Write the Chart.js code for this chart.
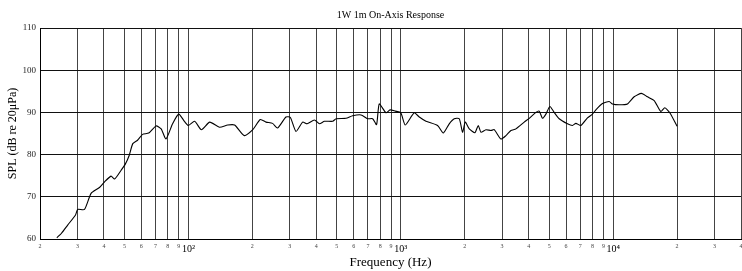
<!DOCTYPE html>
<html>
<head>
<meta charset="utf-8">
<script src="https://cdn.jsdelivr.net/npm/chart.js@4.4.1/dist/chart.umd.min.js"></script>
<style>
  html, body { margin: 0; padding: 0; background: #fff; }
</style>
</head>
<body>
<canvas id="chart" width="742" height="271"></canvas>
<script>
// Frequency (Hz) and SPL (dB)
const FREQS = [24, 25.2, 27, 29.4, 30.1, 32.4, 34.8, 38.1, 40.2, 43.2, 44.9, 48.2, 50.5, 52.6, 54.7, 57.6, 60.8, 65, 70.4, 74.4, 78.4, 84.2, 90, 96, 100, 107, 115, 126, 140, 153, 165, 183, 201, 218, 232, 249, 263, 288, 302, 321, 345, 362, 392, 414, 437, 478, 496, 552, 593, 650, 698, 737, 769, 792, 852, 890, 942, 1000, 1050, 1157, 1222, 1314, 1490, 1585, 1691, 1785, 1885, 1954, 2012, 2101, 2235, 2316, 2385, 2517, 2658, 2754, 2961, 3127, 3301, 3485, 3813, 4025, 4327, 4485, 4648, 4823, 5036, 5277, 5570, 6095, 6434, 6675, 7047, 7570, 7990, 8290, 8905, 9576, 9925, 10670, 11680, 12560, 13590, 14500, 15600, 16770, 17510, 18550, 20000];
const SPL = [60.3, 61.3, 63.3, 65.7, 67.0, 67.0, 70.8, 72.2, 73.5, 74.9, 74.2, 76.3, 77.8, 79.8, 82.6, 83.4, 84.8, 85.1, 86.8, 86.1, 83.7, 87.3, 89.6, 87.8, 86.9, 87.9, 85.9, 87.7, 86.5, 87.0, 87.0, 84.5, 85.9, 88.3, 87.7, 87.4, 86.3, 88.9, 88.8, 85.5, 87.7, 87.3, 88.2, 87.3, 87.9, 87.9, 88.5, 88.6, 89.2, 89.4, 88.5, 88.5, 87.1, 92.0, 89.9, 90.6, 90.3, 89.9, 87.0, 89.9, 88.9, 87.9, 86.9, 85.1, 87.3, 88.5, 88.5, 85.3, 87.7, 86.1, 85.2, 86.9, 85.3, 85.9, 85.7, 85.9, 83.7, 84.5, 85.7, 86.1, 87.7, 88.6, 90.0, 90.3, 88.6, 89.6, 91.4, 90.0, 88.5, 87.3, 86.9, 87.4, 86.9, 88.7, 89.6, 90.6, 92.1, 92.6, 92.0, 91.8, 92.0, 93.7, 94.5, 93.7, 92.8, 90.2, 91.1, 89.8, 86.7];

const X_TICKS = [20, 30, 40, 50, 60, 70, 80, 90, 100, 200, 300, 400, 500, 600, 700, 800, 900, 1000, 2000, 3000, 4000, 5000, 6000, 7000, 8000, 9000, 10000, 20000, 30000, 40000];
const DECADE_LABELS = { 100: '10²', 1000: '10³', 10000: '10⁴' };
const Y_MIN = 60, Y_MAX = 110, Y_STEP = 10;

const SERIF = "'Liberation Serif', 'DejaVu Serif', serif";

function xLabel(v) {
    if (DECADE_LABELS[v]) return DECADE_LABELS[v];
    return String(Math.round(v / Math.pow(10, Math.floor(Math.log10(v)))));
}

new Chart(document.getElementById('chart'), {
    type: 'line',
    data: {
        datasets: [{
            data: FREQS.map((f, i) => ({ x: f, y: SPL[i] })),
            borderColor: '#000',
            borderWidth: 1.1,
            pointRadius: 0,
            tension: 0.2,
            fill: false
        }]
    },
    options: {
        responsive: false,
        animation: false,
        layout: { padding: { left: 0, right: 1, top: 0, bottom: 0 } },
        plugins: {
            legend: { display: false },
            tooltip: { enabled: false },
            title: {
                display: true,
                text: '1W 1m On-Axis Response',
                fullSize: false,
                color: '#000',
                font: { family: SERIF, size: 10, weight: 'normal' },
                padding: { top: 9, bottom: 7 }
            }
        },
        scales: {
            x: {
                type: 'logarithmic',
                min: 20,
                max: 40000,
                afterBuildTicks: s => { s.ticks = X_TICKS.map(v => ({ value: v })); },
                afterFit: s => { s.height = 32; s.paddingLeft = 0; s.paddingRight = 0; },
                grid: { color: '#444', lineWidth: 1, drawTicks: false },
                border: { display: true, color: '#000', width: 1 },
                ticks: {
                    autoSkip: false,
                    maxRotation: 0,
                    padding: 4,
                    color: ctx => (ctx.tick && DECADE_LABELS[ctx.tick.value]) ? '#000' : '#444',
                    font: ctx => (ctx.tick && DECADE_LABELS[ctx.tick.value])
                        ? { family: SERIF, size: 10 }
                        : { family: SERIF, size: 6 },
                    callback: v => xLabel(v)
                },
                title: {
                    display: true,
                    text: 'Frequency (Hz)',
                    color: '#000',
                    font: { family: SERIF, size: 13 },
                    padding: { top: 0, bottom: 1 }
                }
            },
            y: {
                min: Y_MIN,
                max: Y_MAX,
                afterFit: s => { s.width = 40; },
                grid: { color: '#111', lineWidth: 1, drawTicks: false },
                border: { display: true, color: '#000', width: 1 },
                ticks: {
                    stepSize: Y_STEP,
                    padding: 4,
                    color: '#222',
                    font: { family: SERIF, size: 9 }
                },
                title: {
                    display: true,
                    text: 'SPL (dB re 20μPa)',
                    color: '#000',
                    font: { family: SERIF, size: 12 },
                    padding: { top: 6, bottom: 0 }
                }
            }
        }
    }
});
</script>
</body>
</html>
